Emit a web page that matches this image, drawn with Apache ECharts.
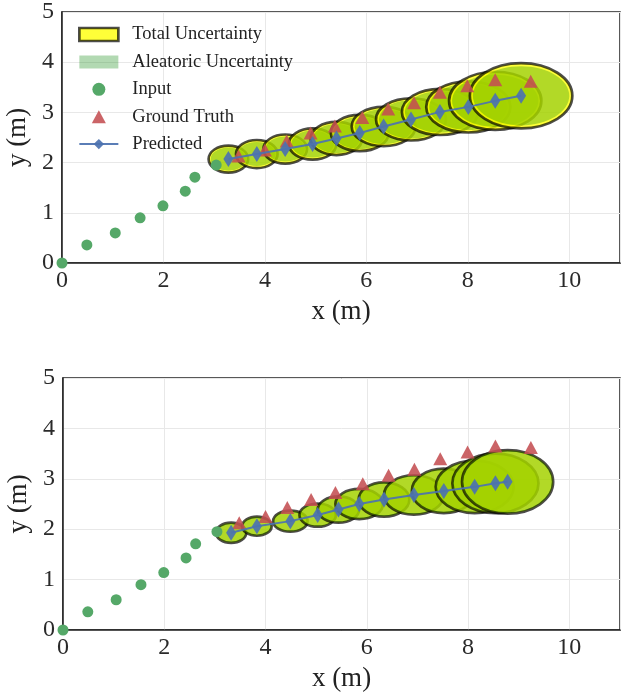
<!DOCTYPE html>
<html>
<head>
<meta charset="utf-8">
<script src="https://cdn.jsdelivr.net/npm/echarts@6/dist/echarts.min.js"></script>
<style>
  html, body { margin: 0; padding: 0; background: #fff; }
  #chart { width: 632px; height: 696px; }
</style>
</head>
<body>
<div id="chart"></div>
<script>
// observed input trajectory (same in both panels)
const inputX = [0, 0.49, 1.05, 1.54, 1.99, 2.43, 2.62, 3.04];
const inputY = [0, 0.36, 0.60, 0.90, 1.14, 1.43, 1.71, 1.95];

// ground truth future (same in both panels)
const truthX = [3.48, 4.00, 4.43, 4.90, 5.38, 5.92, 6.43, 6.94, 7.45, 7.99, 8.54, 9.24];
const truthY = [2.13, 2.25, 2.43, 2.59, 2.73, 2.90, 3.07, 3.19, 3.40, 3.53, 3.65, 3.62];

// top panel: prediction + uncertainty semi-axes (m)
const predX1 = [3.28, 3.84, 4.40, 4.94, 5.41, 5.87, 6.34, 6.88, 7.45, 8.01, 8.54, 9.05];
const predY1 = [2.07, 2.17, 2.27, 2.37, 2.48, 2.59, 2.72, 2.86, 3.01, 3.11, 3.23, 3.33];
const totalRx1 = [0.39, 0.41, 0.43, 0.47, 0.51, 0.57, 0.63, 0.69, 0.75, 0.83, 0.91, 1.01];
const totalRy1 = [0.27, 0.28, 0.29, 0.31, 0.33, 0.36, 0.39, 0.42, 0.46, 0.51, 0.58, 0.65];
const aleaRx1 = [0.35, 0.37, 0.39, 0.42, 0.46, 0.52, 0.57, 0.63, 0.69, 0.77, 0.85, 0.95];
const aleaRy1 = [0.23, 0.24, 0.25, 0.27, 0.29, 0.32, 0.35, 0.38, 0.41, 0.46, 0.52, 0.59];

// bottom panel
const predX2 = [3.32, 3.83, 4.49, 5.03, 5.44, 5.85, 6.34, 6.93, 7.52, 8.13, 8.54, 8.78];
const predY2 = [1.93, 2.06, 2.16, 2.28, 2.39, 2.50, 2.59, 2.68, 2.76, 2.84, 2.91, 2.94];
const totalRx2 = [0.30, 0.29, 0.34, 0.36, 0.41, 0.47, 0.50, 0.59, 0.63, 0.77, 0.85, 0.90];
const totalRy2 = [0.20, 0.19, 0.21, 0.23, 0.26, 0.30, 0.34, 0.39, 0.44, 0.52, 0.59, 0.63];
const aleaRx2 = [0.29, 0.28, 0.33, 0.35, 0.40, 0.46, 0.49, 0.58, 0.62, 0.76, 0.84, 0.89];
const aleaRy2 = [0.19, 0.18, 0.20, 0.22, 0.25, 0.29, 0.33, 0.38, 0.43, 0.51, 0.58, 0.62];

const FONT = 'Liberation Serif';
const TOTAL_FILL = 'rgba(255,255,0,0.78)';
const TOTAL_EDGE = 'rgba(0,0,0,0.7)';
const ALEA_FILL = 'rgba(0,128,0,0.3)';
const GREEN = '#55a868';
const RED = 'rgba(196,78,82,0.88)';
const BLUE = 'rgba(76,114,176,0.92)';

const zip = (a, b) => a.map((v, i) => [v, b[i]]);

// ellipses drawn through the axes; z2 interleaves total/aleatoric per step
function ellipses(name, idx, xs, ys, rxs, rys, style, offset) {
  return {
    name: name,
    type: 'custom',
    xAxisIndex: idx,
    yAxisIndex: idx,
    z: 2,
    itemStyle: { color: style.fill },
    encode: { x: 0, y: 1 },
    data: xs.map((x, i) => [x, ys[i], rxs[i] * 2, rys[i] * 2]),
    renderItem: (params, api) => {
      const c = api.coord([api.value(0), api.value(1)]);
      const s = api.size([api.value(2), api.value(3)], [api.value(0), api.value(1)]);
      return {
        type: 'ellipse',
        z2: params.dataIndex * 2 + offset,
        shape: { cx: c[0], cy: c[1], rx: s[0] / 2, ry: s[1] / 2 },
        style: style,
      };
    },
  };
}

function panel(idx, px, py, trx, try_, arx, ary) {
  return [
    ellipses('Total Uncertainty', idx, px, py, trx, try_,
      { fill: TOTAL_FILL, stroke: TOTAL_EDGE, lineWidth: 2.7 }, 0),
    ellipses('Aleatoric Uncertainty', idx, px, py, arx, ary,
      { fill: ALEA_FILL }, 1),
    {
      name: 'Input',
      type: 'scatter',
      xAxisIndex: idx,
      yAxisIndex: idx,
      z: 3,
      symbol: 'circle',
      symbolSize: 11,
      itemStyle: { color: GREEN, opacity: 1 },
      data: zip(inputX, inputY),
    },
    {
      name: 'Ground Truth',
      type: 'scatter',
      xAxisIndex: idx,
      yAxisIndex: idx,
      z: 3,
      symbol: 'triangle',
      symbolSize: [14, 13],
      itemStyle: { color: RED, opacity: 1 },
      data: zip(truthX, truthY),
    },
    {
      name: 'Predicted',
      type: 'line',
      xAxisIndex: idx,
      yAxisIndex: idx,
      z: 4,
      symbol: 'diamond',
      symbolSize: [10, 16],
      showAllSymbol: true,
      lineStyle: { color: BLUE, width: 2 },
      itemStyle: { color: BLUE, opacity: 1 },
      data: zip(px, py),
    },
  ];
}

const chart = echarts.init(document.getElementById('chart'));

const xAxisBase = (i) => ({
  type: 'value',
  gridIndex: i,
  min: 0,
  max: 11,
  interval: 2,
  name: 'x (m)',
  nameLocation: 'middle',
  nameGap: 35,
  nameTextStyle: { fontFamily: FONT, fontSize: 27, color: '#222' },
  axisLine: { show: true, lineStyle: { color: '#222', width: 1.5 } },
  axisTick: { show: false },
  axisLabel: { fontFamily: FONT, fontSize: 24, color: '#2a2a2a', margin: 6, showMaxLabel: false },
  splitLine: { lineStyle: { color: '#e8e8e8', width: 1 } },
});

const yAxisBase = (i) => ({
  type: 'value',
  gridIndex: i,
  min: 0,
  max: 5,
  interval: 1,
  name: 'y (m)',
  nameLocation: 'middle',
  nameGap: 25,
  nameTextStyle: { fontFamily: FONT, fontSize: 27, color: '#222' },
  axisLine: { show: true, lineStyle: { color: '#222', width: 1.5 } },
  axisTick: { show: false },
  axisLabel: { fontFamily: FONT, fontSize: 24, color: '#2a2a2a', margin: 8 },
  splitLine: { lineStyle: { color: '#e8e8e8', width: 1 } },
});

const option = {
  animation: false,
  backgroundColor: '#fff',
  grid: [
    { left: 62, right: 12, top: 12, height: 251, outerBoundsMode: 'none',
      show: true, borderColor: '#222', borderWidth: 1.5 },
    { left: 63, right: 12, top: 378, height: 252, outerBoundsMode: 'none',
      show: true, borderColor: '#222', borderWidth: 1.5 },
  ],
  legend: {
    orient: 'vertical',
    left: 73,
    top: 20,
    itemWidth: 39,
    itemHeight: 13,
    itemGap: 8.4,
    selectedMode: false,
    textStyle: { fontFamily: FONT, fontSize: 18.5, lineHeight: 18, color: '#222', padding: [0, 0, 0, 9] },
    data: [
      { name: 'Total Uncertainty', icon: 'rect',
        itemStyle: { color: TOTAL_FILL, borderColor: TOTAL_EDGE, borderWidth: 2.7 } },
      { name: 'Aleatoric Uncertainty', icon: 'rect',
        itemStyle: { color: ALEA_FILL, borderWidth: 0 } },
      { name: 'Input', icon: 'circle' },
      { name: 'Ground Truth', icon: 'path://M6.5,0L13,12L0,12Z' },
      { name: 'Predicted' },
    ],
  },
  xAxis: [xAxisBase(0), xAxisBase(1)],
  yAxis: [yAxisBase(0), yAxisBase(1)],
  series: [
    ...panel(0, predX1, predY1, totalRx1, totalRy1, aleaRx1, aleaRy1),
    ...panel(1, predX2, predY2, totalRx2, totalRy2, aleaRx2, aleaRy2),
  ],
};

chart.setOption(option);
</script>
</body>
</html>
